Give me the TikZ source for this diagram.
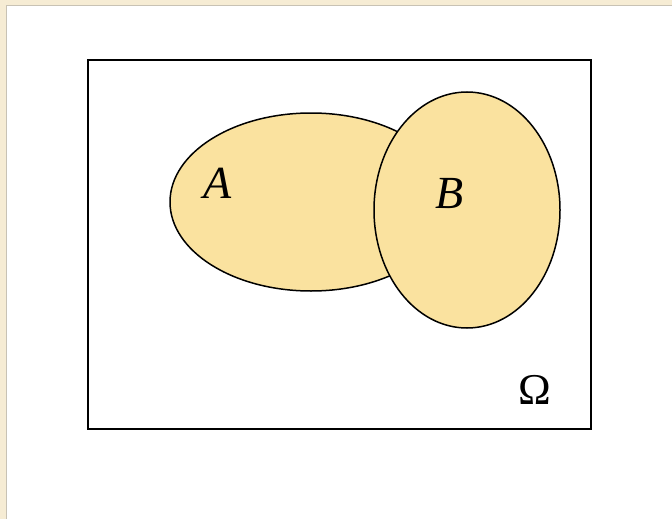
\documentclass[tikz,border=0pt]{standalone}
\usepackage{fontspec}
\setmainfont{Liberation Serif}
\definecolor{cream}{HTML}{F6ECD4}
\definecolor{setfill}{HTML}{FAE29F}
\definecolor{panelline}{HTML}{C8C2B4}
\tikzset{
  setshape/.style={draw=black, line width=1.5pt, fill=setfill},
  setlabel/.style={font=\fontsize{46}{50}\selectfont\itshape, inner sep=0pt},
}
\begin{document}
\begin{tikzpicture}[x=1pt,y=-1pt]
\useasboundingbox (0,0) rectangle (672,519);
\fill[cream] (0,0) rectangle (672,519);
\fill[white] (6.5,5.5) rectangle (672,519);
\draw[panelline, line width=1pt] (6.5,519) -- (6.5,5.5) -- (672,5.5);
\node[draw=black, line width=1.8pt, minimum width=503pt, minimum height=369pt, inner sep=0pt] (omega) at (339.5,244.5) {};
\draw[setshape] (311,202) ellipse [x radius=141, y radius=89];
\coordinate (A) at (311,202);
\draw[setshape] (467,210) ellipse [x radius=93, y radius=118];
\coordinate (B) at (467,210);
\node[setlabel] (la) at (218,183) {A};
\node[setlabel] (lb) at (450,194) {B};
\node[font=\fontsize{44}{48}\selectfont, inner sep=0pt] (lo) at (535,390) {Ω};
\end{tikzpicture}
\end{document}
